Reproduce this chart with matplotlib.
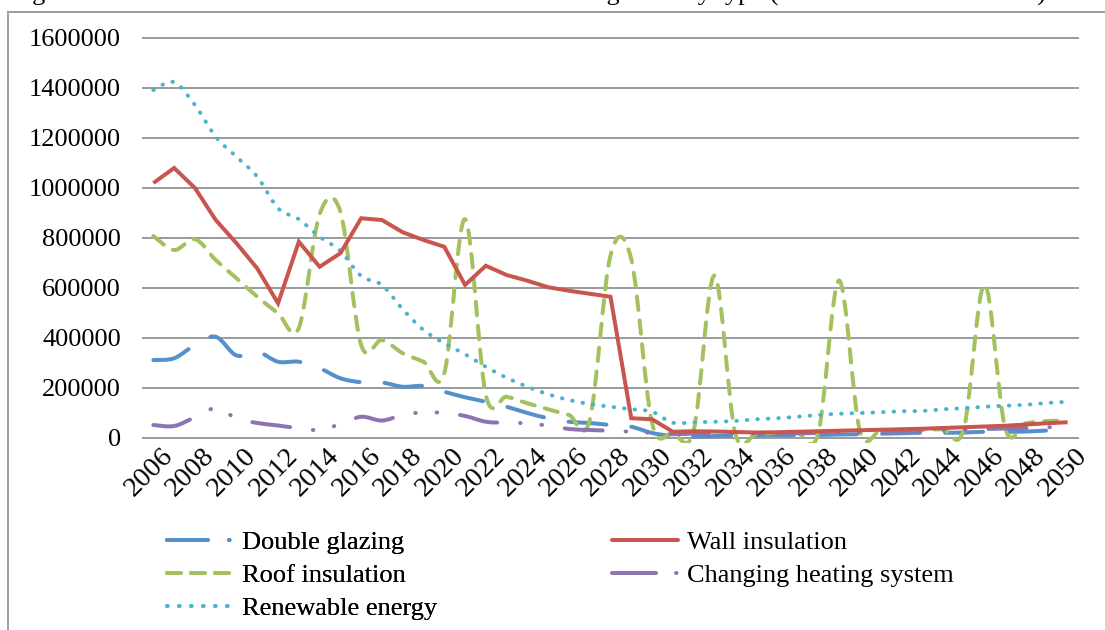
import numpy as np
import matplotlib
matplotlib.use("Agg")
import matplotlib.pyplot as plt
from matplotlib.path import Path
from matplotlib.patches import PathPatch, Rectangle
from matplotlib.lines import Line2D
from matplotlib.transforms import ScaledTranslation

# ---- data -------------------------------------------------------------
years = list(range(2006, 2051))

double_glazing = [312000, 319000, 372000, 405000, 330000, 345000, 305000, 305000, 279000, 239000,
                  223000, 222000, 205000, 208000, 185000, 163000, 145000, 125000, 100000, 79000,
                  65000, 60000, 52000, 45000, 20000, 8000, 5000, 8000, 10000, 12000,
                  12000, 12000, 12000, 14000, 15000, 17000, 19000, 21000, 21000, 22000,
                  25000, 25000, 26000, 30000, 35000]

wall_insulation = [1020000, 1080000, 1000000, 872000, 779000, 678000, 539000, 785000, 685000, 739000,
                   879000, 872000, 823000, 792000, 765000, 612000, 689000, 652000, 629000, 603000,
                   589000, 577000, 565000, 79000, 75000, 25000, 27000, 26000, 24000, 22000,
                   23000, 25000, 27000, 29000, 31000, 33000, 35000, 37000, 40000, 43000,
                   46000, 49000, 54000, 59000, 63000]

roof_insulation = [808000, 752000, 795000, 712000, 639000, 565000, 499000, 440000, 895000, 905000,
                   372000, 392000, 339000, 305000, 259000, 875000, 172000, 165000, 139000, 115000,
                   92000, 72000, 730000, 715000, 60000, 20000, 30000, 650000, 20000, 15000,
                   20000, 20000, 20000, 630000, 30000, 30000, 32000, 33000, 35000, 35000,
                   615000, 39000, 59000, 68000, 68000]

heating_system = [52000, 48000, 83000, 119000, 79000, 60000, 50000, 39000, 32000, 56000,
                  85000, 70000, 92000, 103000, 100000, 88000, 65000, 61000, 59000, 49000,
                  36000, 32000, 29000, 25000, 21000, 15000, 18000, 18000, 18000, 18000,
                  18000, 19000, 20000, 22000, 24000, 26000, 28000, 30000, 32000, 34000,
                  36000, 38000, 40000, 43000, 45000]

renewable_energy = [1392000, 1423000, 1332000, 1205000, 1125000, 1045000, 919000, 875000, 805000, 748000,
                    648000, 612000, 515000, 432000, 379000, 335000, 285000, 241000, 205000, 175000,
                    152000, 136000, 125000, 115000, 105000, 61000, 63000, 65000, 68000, 75000,
                    79000, 85000, 92000, 97000, 100000, 103000, 107000, 108000, 115000, 119000,
                    125000, 129000, 133000, 140000, 145000]

series_labels = ["Double glazing", "Wall insulation", "Roof insulation",
                 "Changing heating system", "Renewable energy"]
year_labels = [str(y) for y in years[::2]]
y_ticks = list(range(0, 1600001, 200000))

# ---- style ------------------------------------------------------------
plt.rcParams["font.family"] = ["Liberation Serif", "DejaVu Serif"]
plt.rcParams["lines.scale_dashes"] = False

DPI = 100
W, H = 1105, 630
PX = 72.0 / DPI  # points per pixel
FS = 19

C_BLUE = "#5590CC"
C_RED = "#C9554F"
C_GREEN = "#A3C25F"
C_PURPLE = "#8C74B0"
C_CYAN = "#4CB3CF"
LW = 4 * PX

fig = plt.figure(figsize=(W / DPI, H / DPI), dpi=DPI, facecolor="white")

# plot area (pixel box 143..1078 x 38..438)
ax = fig.add_axes([143 / W, (H - 438) / H, 935 / W, 400 / H])
ax.set_xlim(years[0] - 0.5, years[-1] + 0.5)
ax.set_ylim(0, 1600000)
for s in ax.spines.values():
    s.set_visible(False)
ax.set_xticks([])
ax.set_yticks(y_ticks)
ax.set_yticklabels([str(v) for v in y_ticks], fontsize=FS)
ax.tick_params(axis="y", length=0, pad=22 * PX)
ax.grid(axis="y", color="#9c9c9c", linewidth=2 * PX)
for gl in ax.get_ygridlines():
    gl.set_clip_on(False)
ax.set_axisbelow(True)

clip_rect = Rectangle((0, -0.012), 1, 1.03, transform=ax.transAxes, visible=False)
ax.add_patch(clip_rect)


def smooth_patch(xs, ys, color, dashes):
    """Smoothed (Catmull-Rom style Bezier) line through the data points."""
    pts = np.column_stack([xs, ys]).astype(float)
    n = len(pts)
    verts = [pts[0]]
    codes = [Path.MOVETO]
    for i in range(n - 1):
        p0 = pts[i - 1] if i > 0 else pts[i]
        p1 = pts[i]
        p2 = pts[i + 1]
        p3 = pts[i + 2] if i + 2 < n else pts[i + 1]
        verts += [p1 + (p2 - p0) / 6.0, p2 - (p3 - p1) / 6.0, p2]
        codes += [Path.CURVE4] * 3
    patch = PathPatch(Path(verts, codes), fill=False, edgecolor=color, linewidth=LW,
                      linestyle=(0, dashes) if dashes else "-", capstyle="round",
                      joinstyle="round")
    ax.add_patch(patch)
    patch.set_clip_path(clip_rect)
    return patch


d_blue = [38 * PX, 25 * PX]
d_green = [13.5 * PX, 10.5 * PX]
d_purple = [38 * PX, 23 * PX, 0.5 * PX, 21 * PX, 0.5 * PX, 23 * PX]
d_cyan = [0.5 * PX, 10 * PX]

smooth_patch(years, double_glazing, C_BLUE, d_blue)
red_line, = ax.plot(years, wall_insulation, color=C_RED, linewidth=LW,
                    solid_joinstyle="miter", solid_capstyle="butt")
red_line.set_clip_path(clip_rect)
smooth_patch(years, roof_insulation, C_GREEN, d_green)
smooth_patch(years, heating_system, C_PURPLE, d_purple)
smooth_patch(years, renewable_energy, C_CYAN, d_cyan)

# rotated year labels
lab_off = ScaledTranslation(7 / DPI, -5 / DPI, fig.dpi_scale_trans)
for yr, txt in zip(years[::2], year_labels):
    ax.text(yr, 0, txt, transform=ax.get_xaxis_transform() + lab_off,
            rotation=45, rotation_mode="anchor", ha="right", va="top", fontsize=20.5)

# legend (two columns, row-major reading order)
def proxy(color, dashes):
    if dashes is None:
        return Line2D([], [], color=color, linewidth=LW, solid_capstyle="round")
    return Line2D([], [], color=color, linewidth=LW, linestyle=(0, dashes),
                  dash_capstyle="round")

h_blue = proxy(C_BLUE, [41 * PX, 21 * PX, 0.5 * PX, 20 * PX])
h_red = proxy(C_RED, None)
h_green = proxy(C_GREEN, [14 * PX, 10 * PX])
h_purple = proxy(C_PURPLE, [44 * PX, 20 * PX, 0.5 * PX, 20 * PX])
h_cyan = proxy(C_CYAN, [0.5 * PX, 11.5 * PX])

leg_kw = dict(frameon=False, fontsize=FS, handlelength=2.5, handletextpad=0.34,
              labelspacing=0.35, borderpad=0, borderaxespad=0, loc="upper left")
top_y = (H - 531) / H
leg1 = fig.legend([h_blue, h_green, h_cyan],
                  [series_labels[0], series_labels[2], series_labels[4]],
                  bbox_to_anchor=(167 / W, top_y), **leg_kw)
fig.add_artist(leg1)
fig.legend([h_red, h_purple], [series_labels[1], series_labels[3]],
           bbox_to_anchor=(612 / W, top_y), **leg_kw)

# chart frame
frame_kw = dict(color="#a0a0a0", linewidth=2 * PX, transform=fig.transFigure)
fig.add_artist(Line2D([8 / W, 8 / W], [0, (H - 12) / H], **frame_kw))
fig.add_artist(Line2D([8 / W, 1], [(H - 12) / H, (H - 12) / H], **frame_kw))

# caption running above the frame
fig.text(10 / W, 1 - 1 / H,
         "Figure 4: Annual number of renovated individual housing units by type (in the reference scenario)",
         fontsize=FS, va="baseline", ha="left")

fig.savefig("out.png", dpi=DPI, facecolor="white")
